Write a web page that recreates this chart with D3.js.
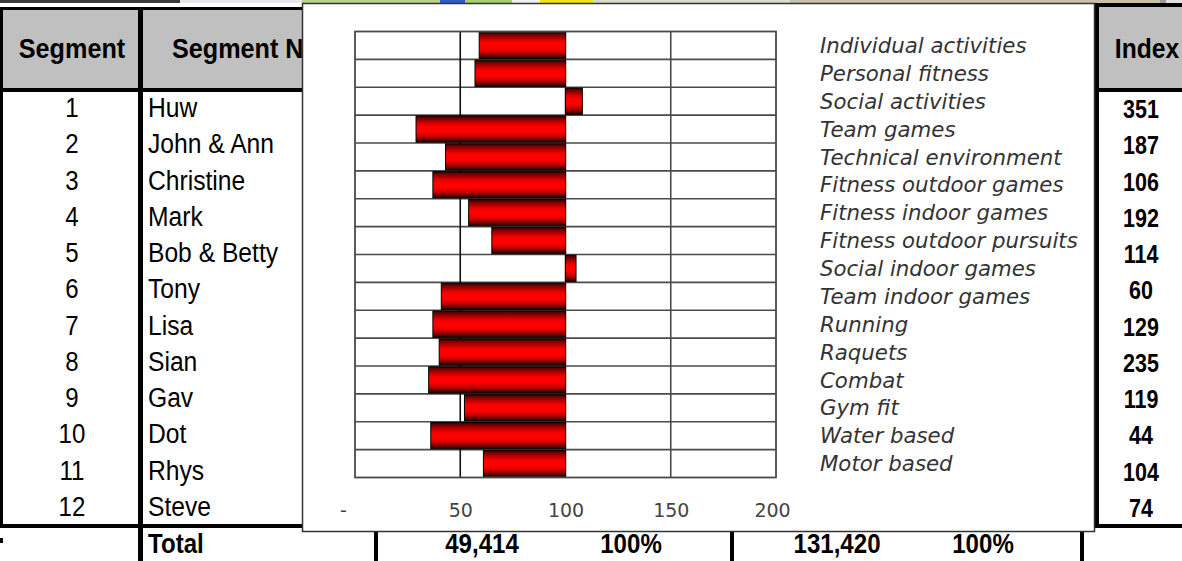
<!DOCTYPE html>
<html>
<head>
<meta charset="utf-8">
<script src="https://cdn.jsdelivr.net/npm/d3@7"></script>
<style>
  body { margin: 0; background: #fff; }
  svg { display: block; }
</style>
</head>
<body>
<svg id="sheet" width="1182" height="561"></svg>
<script>
// Participation index by activity type (100 = average)
const activities = [
  "Individual activities", "Personal fitness", "Social activities", "Team games",
  "Technical environment", "Fitness outdoor games", "Fitness indoor games",
  "Fitness outdoor pursuits", "Social indoor games", "Team indoor games",
  "Running", "Raquets", "Combat", "Gym fit", "Water based", "Motor based"
];
const activityIndex = [59, 57, 108, 29, 43, 37, 54, 65, 105, 41, 37, 40, 35, 52, 36, 61];
const axisTicks = [0, 50, 100, 150, 200];

// Segment table behind the chart
const segmentIds = [1, 2, 3, 4, 5, 6, 7, 8, 9, 10, 11, 12];
const segmentNames = ["Huw", "John & Ann", "Christine", "Mark", "Bob & Betty", "Tony",
  "Lisa", "Sian", "Gav", "Dot", "Rhys", "Steve"];
const segmentIndex = [351, 187, 106, 192, 114, 60, 129, 235, 119, 44, 104, 74];
const totalRow = ["49,414", "100%", "131,420", "100%"];

const svg = d3.select("#sheet");
const tableFont = "'Liberation Sans', Arial, sans-serif";

function cellText(g, x, y, str, size, weight, anchor, sx) {
  g.append("text")
    .attr("transform", `translate(${x},${y}) scale(${sx || 0.86},1)`)
    .attr("text-anchor", anchor || "start")
    .attr("font-family", tableFont)
    .attr("font-size", size)
    .attr("font-weight", weight || "normal")
    .attr("fill", "#000")
    .text(str);
}
function block(g, x, y, w, h, fill) {
  g.append("rect").attr("x", x).attr("y", y).attr("width", w).attr("height", h).attr("fill", fill);
}

// ---------- spreadsheet layer ----------
const sheet = svg.append("g");

// strip of a picture above the table
[["#3a3a3a", 0, 180], ["#e8e6ee", 180, 302], ["#b9d48a", 302, 440], ["#2b5fc7", 440, 465],
 ["#a8cf6e", 465, 512], ["#f2f2f2", 512, 540], ["#f2e41c", 540, 593], ["#d8dccb", 593, 790],
 ["#c9c0a8", 790, 1160], ["#9a9a9a", 1160, 1166], ["#e0e0e0", 1166, 1182]]
  .forEach(([c, a, b]) => block(sheet, a, 0, b - a, 3, c));

// header backgrounds
block(sheet, 3, 10, 1179, 78, "#c0c0c0");
block(sheet, 0, 7, 1094, 3, "#000");
block(sheet, 1094, 3, 88, 4, "#000");
block(sheet, 1099, 7, 83, 3, "#c0c0c0");
// header bottom rule
block(sheet, 0, 88, 1182, 4, "#000");
// body rule under last segment
block(sheet, 0, 524, 1182, 4, "#000");
// verticals
block(sheet, 0, 7, 3, 521, "#000");
block(sheet, 138, 7, 5, 554, "#000");
block(sheet, 1094, 3, 5, 525, "#000");
block(sheet, 374, 528, 4, 33, "#000");
block(sheet, 730, 528, 4, 33, "#000");
block(sheet, 1080, 528, 4, 33, "#000");
block(sheet, 0, 538, 3, 5, "#000");

// headers
cellText(sheet, 72, 58, "Segment", 28, "bold", "middle", 0.9);
cellText(sheet, 172, 58, "Segment Name", 28, "bold", "start", 0.9);
cellText(sheet, 1147, 58, "Index", 28, "bold", "middle", 0.88);

// segment rows
const rowY = d3.scalePoint().domain(segmentIds).range([107, 506]);
segmentIds.forEach((id, i) => {
  const yy = rowY(id) + 10;
  cellText(sheet, 72, yy, String(id), 28, "normal", "middle");
  cellText(sheet, 148, yy, segmentNames[i], 28, "normal", "start", 0.88);
  cellText(sheet, 1141, yy + 1, String(segmentIndex[i]), 25, "bold", "middle");
});

// total row
cellText(sheet, 148, 553, "Total", 28, "bold", "start");
[482, 631, 837, 983].forEach((cx, i) => cellText(sheet, cx, 553, totalRow[i], 28, "bold", "middle"));

// ---------- chart layer ----------
const chart = svg.append("g");
chart.append("rect")
  .attr("x", 302.5).attr("y", 3.5).attr("width", 792).attr("height", 528)
  .attr("fill", "#fff").attr("stroke", "#333").attr("stroke-width", 1.5);

// cylinder-style shading for the bars
const defs = svg.append("defs");
const grad = defs.append("linearGradient").attr("id", "barShade")
  .attr("x1", 0).attr("y1", 0).attr("x2", 0).attr("y2", 1);
[[0, "#2a0000"], [0.1, "#7a0000"], [0.3, "#dd0000"], [0.42, "#ff0000"], [0.6, "#ff0000"],
 [0.76, "#cc0000"], [0.9, "#6a0000"], [1, "#1e0000"]]
  .forEach(([o, c]) => grad.append("stop").attr("offset", o).attr("stop-color", c));

const x = d3.scaleLinear().domain([0, 200]).range([355, 776]);
const y = d3.scaleBand().domain(activities).range([31.5, 477.5]).padding(0);
const gridColor = "#4a4a4a";

// category separators
const plot = chart.append("g");
plot.selectAll("line.row")
  .data(activities.slice(1))
  .join("line")
  .attr("x1", x(0)).attr("x2", x(200))
  .attr("y1", d => y(d)).attr("y2", d => y(d))
  .attr("stroke", gridColor).attr("stroke-width", 1.6);

// value gridlines
plot.selectAll("line.grid")
  .data(axisTicks.filter(t => t > 0 && t < 200))
  .join("line")
  .attr("x1", d => x(d)).attr("x2", d => x(d))
  .attr("y1", y.range()[0]).attr("y2", y.range()[1])
  .attr("stroke", d => d === 50 ? "#111" : gridColor).attr("stroke-width", 1.6);

// bars drawn from the 100 baseline
plot.selectAll("rect.bar")
  .data(activities.map((a, i) => ({ a, v: activityIndex[i] })))
  .join("rect")
  .attr("x", d => x(Math.min(d.v, 100)))
  .attr("width", d => Math.abs(x(d.v) - x(100)))
  .attr("y", d => y(d.a) + 0.8)
  .attr("height", y.bandwidth() - 1.6)
  .attr("fill", "url(#barShade)")
  .attr("stroke", "#000").attr("stroke-width", 1);

// plot border
plot.append("rect")
  .attr("x", x(0)).attr("y", y.range()[0])
  .attr("width", x(200) - x(0)).attr("height", y.range()[1] - y.range()[0])
  .attr("fill", "none").attr("stroke", gridColor).attr("stroke-width", 1.8);

// value axis
const axis = chart.append("g")
  .attr("transform", `translate(0,${y.range()[1]})`)
  .call(d3.axisBottom(x).tickValues(axisTicks).tickSize(0).tickPadding(0)
    .tickFormat(d => d === 0 ? "-" : String(d)));
axis.select(".domain").remove();
axis.selectAll("text")
  .attr("font-family", "'DejaVu Sans', Verdana, sans-serif")
  .attr("font-size", 19)
  .attr("fill", "#444")
  .attr("dy", null)
  .attr("y", 39)
  .attr("dx", d => d === 0 ? -12 : (d === 200 ? -4 : 0));

// category labels
chart.selectAll("text.cat")
  .data(activities)
  .join("text")
  .attr("x", 820)
  .attr("y", d => y(d) + y.bandwidth() / 2)
  .attr("dy", "0.36em")
  .attr("font-family", "'DejaVu Sans', Verdana, sans-serif")
  .attr("font-style", "italic")
  .attr("font-size", 21.3)
  .attr("fill", "#333")
  .text(d => d);
</script>
</body>
</html>
